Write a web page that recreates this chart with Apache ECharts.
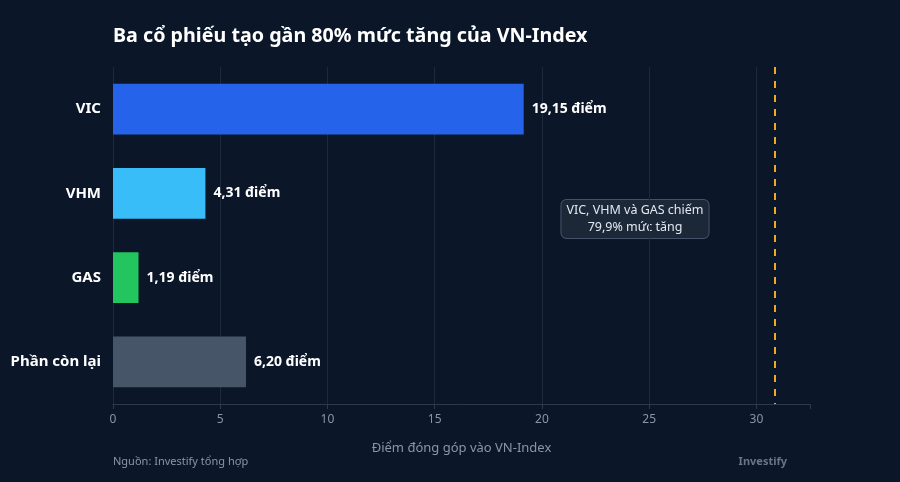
<!DOCTYPE html>
<html>
<head>
<meta charset="utf-8">
<script src="https://cdn.jsdelivr.net/npm/echarts@6/dist/echarts.min.js"></script>
<style>
  html, body { margin: 0; padding: 0; background: #0b1628; }
  #chart { width: 900px; height: 482px; }
</style>
</head>
<body>
<div id="chart"></div>
<script>
// dữ liệu
const categories = ['VIC', 'VHM', 'GAS', 'Phần còn lại']
const values = [19.15, 4.31, 1.19, 6.20]
const colors = ['#2563eb', '#38bdf8', '#22c55e', '#475569']
const totalLine = [30.85]
const noteText = 'VIC, VHM và GAS chiếm\n79,9% mức tăng'

const fmt = v => v.toFixed(2).replace('.', ',') + ' điểm'

const chart = echarts.init(document.getElementById('chart'))
chart.setOption({
  backgroundColor: '#0b1628',
  textStyle: { fontFamily: 'Noto Sans' },
  title: {
    text: 'Ba cổ phiếu tạo gần 80% mức tăng của VN-Index',
    left: 113, top: 26, padding: 0,
    textStyle: { color: '#ffffff', fontSize: 19.7, fontWeight: 'bold', fontFamily: 'Noto Sans' }
  },
  grid: { left: 113, right: 90, top: 67, bottom: 78 },
  xAxis: {
    type: 'value', min: 0, max: 32.5, interval: 5,
    name: 'Điểm đóng góp vào VN-Index',
    nameLocation: 'middle', nameGap: 38,
    nameTextStyle: { color: '#8b95a7', fontSize: 13 },
    axisLine: { show: true, lineStyle: { color: '#2c3a4f' } },
    axisTick: { show: true, lineStyle: { color: '#2c3a4f' } },
    axisLabel: {
      color: '#8b95a7', fontSize: 12, margin: 10,
      formatter: v => (v % 5 === 0 ? String(v) : '')
    },
    splitLine: { showMaxLine: false, lineStyle: { color: '#1e2a3c' } }
  },
  yAxis: {
    type: 'category', data: categories, inverse: true,
    axisLine: { show: false }, axisTick: { show: false },
    axisLabel: { color: '#ffffff', fontSize: 15, fontWeight: 'bold', margin: 12 }
  },
  series: [{
    type: 'bar',
    data: values.map((v, i) => ({ value: v, itemStyle: { color: colors[i] } })),
    barCategoryGap: '40%',
    label: {
      show: true, position: 'right', distance: 8,
      color: '#ffffff', fontSize: 14, fontWeight: 'bold',
      formatter: p => fmt(p.value)
    },
    markLine: {
      silent: true, symbol: 'none',
      label: { show: false },
      lineStyle: { color: '#f5a623', type: [7, 7], width: 2 },
      data: totalLine.map(v => ({ xAxis: v }))
    }
  }],
  graphic: [
    {
      type: 'text', left: 113, top: 456,
      style: { text: 'Nguồn: Investify tổng hợp', fill: '#8b95a7', fontSize: 11, fontFamily: 'Noto Sans' }
    },
    {
      type: 'text', right: 113, top: 456,
      style: { text: 'Investify', fill: '#6b7588', fontSize: 11, fontWeight: 'bold', fontFamily: 'Noto Sans' }
    },
    {
      type: 'text', x: 635, y: 200,
      style: {
        text: noteText, fill: '#e2e8f0', fontSize: 12.5, fontFamily: 'Noto Sans',
        align: 'center', verticalAlign: 'top', lineHeight: 17,
        backgroundColor: '#1c2738', borderColor: '#46526a', borderWidth: 1,
        borderRadius: 5, padding: [2, 5, 2, 5]
      }
    }
  ]
})
</script>
</body>
</html>
